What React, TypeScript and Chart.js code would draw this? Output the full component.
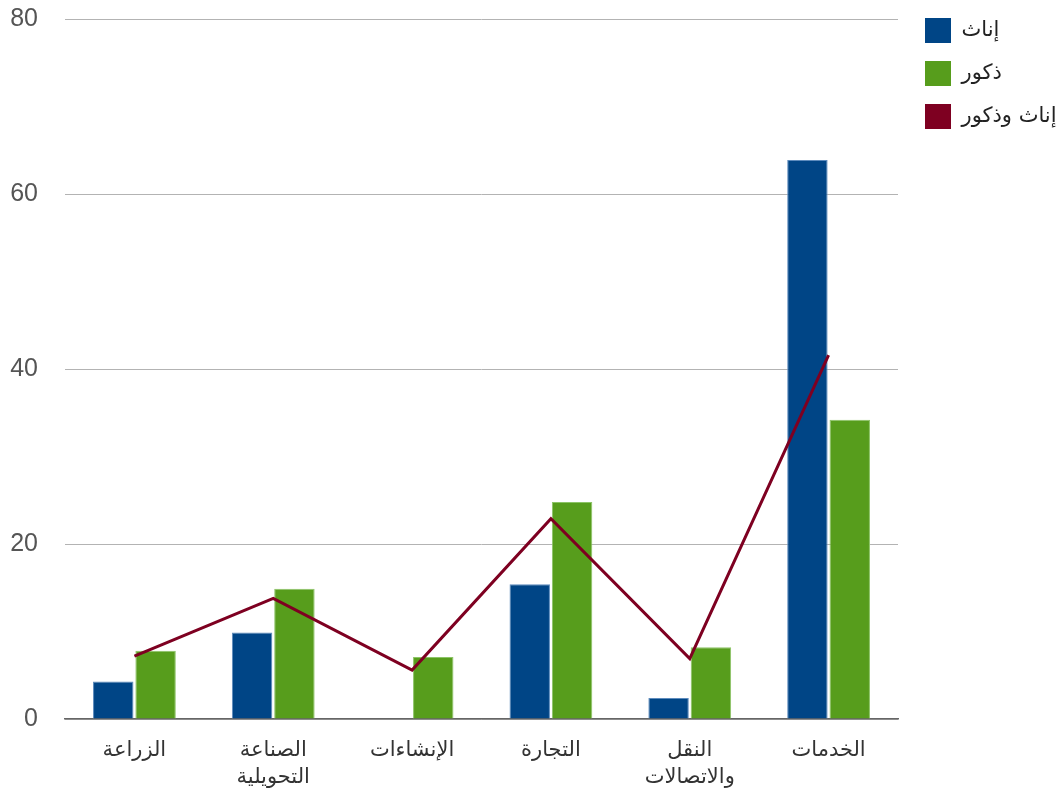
import React, { useEffect, useRef } from "react";
import { Chart, registerables } from "chart.js";

Chart.register(...registerables);

const categories: (string | string[])[] = [
  "الزراعة",
  ["الصناعة", "التحويلية"],
  "الإنشاءات",
  "التجارة",
  ["النقل", "والاتصالات"],
  "الخدمات",
];
const female = [4.3, 9.9, 0, 15.4, 2.4, 63.9];
const male = [7.8, 14.9, 7.1, 24.8, 8.2, 34.2];
const total = [7.2, 13.8, 5.6, 22.9, 6.9, 41.6];
const seriesNames = ["إناث", "ذكور", "إناث وذكور"];
const yTicks = [0, 20, 40, 60, 80];

const CANVAS_W = 1063;
const CANVAS_H = 794;
const PLOT_RIGHT = 898;
const LEGEND_W = 156;

export default function App() {
  const ref = useRef<HTMLCanvasElement>(null);
  useEffect(() => {
    if (!ref.current) return;
    const defaultGen = Chart.defaults.plugins.legend.labels.generateLabels;
    const chart = new Chart(ref.current, {
      type: "bar",
      data: {
        labels: categories as any,
        datasets: [
          {
            type: "bar",
            label: seriesNames[0],
            data: female,
            backgroundColor: "#004586",
            borderColor: "#5d8bbd",
            borderWidth: 1,
            order: 1,
            categoryPercentage: 0.61,
            barPercentage: 0.955,
          },
          {
            type: "bar",
            label: seriesNames[1],
            data: male,
            backgroundColor: "#579d1c",
            borderColor: "#8cc466",
            borderWidth: 1,
            order: 1,
            categoryPercentage: 0.61,
            barPercentage: 0.955,
          },
          {
            type: "line",
            label: seriesNames[2],
            data: total,
            borderColor: "#7e0021",
            backgroundColor: "#7e0021",
            borderWidth: 3,
            pointRadius: 0,
            tension: 0,
            order: 0,
          } as any,
        ],
      },
      options: {
        animation: false,
        responsive: false,
        devicePixelRatio: 1,
        layout: { padding: { top: 0, right: 0, bottom: 0, left: 0 } },
        plugins: {
          tooltip: { enabled: false },
          legend: {
            position: "right",
            align: "start",
            maxWidth: LEGEND_W,
            labels: {
              boxWidth: 26,
              boxHeight: 25,
              padding: 18,
              color: "#222",
              font: { family: "'DejaVu Sans', sans-serif", size: 21 },
              generateLabels: (c: any) =>
                defaultGen(c)
                  .map((l: any) => ({ ...l, lineWidth: 0 }))
                  .sort((a: any, b: any) => a.datasetIndex - b.datasetIndex),
            },
          } as any,
        },
        scales: {
          x: {
            offset: true,
            grid: { display: false, drawTicks: false },
            border: { display: true, color: "#666", width: 1.5 },
            ticks: {
              autoSkip: false,
              maxRotation: 0,
              padding: 18,
              color: "#333",
              font: { family: "'DejaVu Sans', sans-serif", size: 21, lineHeight: 1.3 },
            },
            afterFit: (s: any) => {
              s.height = 75;
            },
          },
          y: {
            min: 0,
            max: 80,
            afterBuildTicks: (s: any) => {
              s.ticks = yTicks.map((v) => ({ value: v }));
            },
            grid: {
              color: "#b3b3b3",
              lineWidth: 1,
              drawTicks: true,
              tickLength: 27,
              tickColor: "rgba(0,0,0,0)",
            },
            border: { display: false },
            ticks: {
              padding: 0,
              color: "#555",
              font: { family: "'Liberation Sans', Arial, sans-serif", size: 25, lineHeight: 1.54 },
            },
            afterFit: (s: any) => {
              s.width = 65;
            },
          },
          yR: {
            position: "right",
            display: true,
            grid: { display: false, drawTicks: false },
            border: { display: false },
            ticks: { display: false },
            afterFit: (s: any) => {
              const lw = s.chart.legend ? s.chart.legend.width : LEGEND_W;
              s.width = Math.max(0, CANVAS_W - PLOT_RIGHT - lw);
            },
          },
        },
      } as any,
    });
    return () => chart.destroy();
  }, []);
  return (
    <div style={{ position: "fixed", left: 0, top: 0, width: CANVAS_W, height: CANVAS_H, overflow: "hidden", background: "#fff" }}>
      <canvas ref={ref} width={CANVAS_W} height={CANVAS_H} style={{ display: "block" }} />
    </div>
  );
}
